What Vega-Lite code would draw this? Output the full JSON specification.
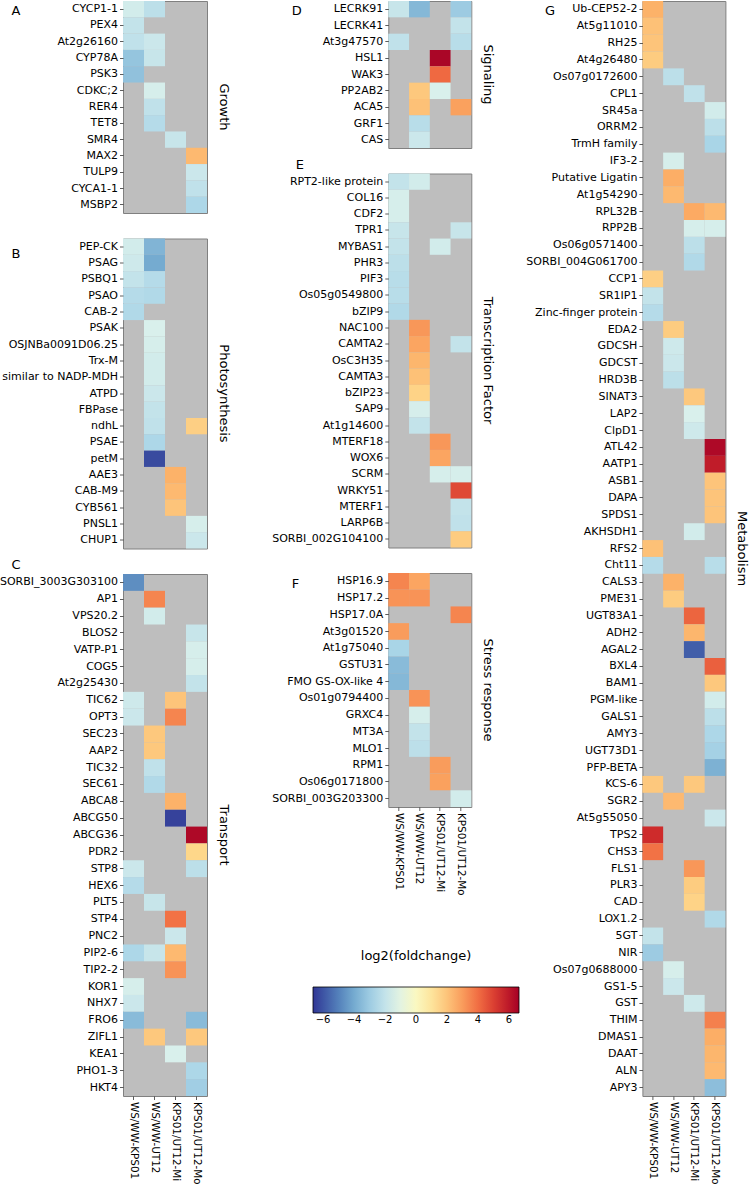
{
"$schema": "https://vega.github.io/schema/vega-lite/v6.json",
"padding": {"left": -2, "top": 0, "right": 0, "bottom": 0},
"background": "white",
"config": {
  "font": "DejaVu Sans",
  "view": {"fill": "#bebebe", "stroke": "#808080", "strokeWidth": 1},
  "axis": {"labelFont": "DejaVu Sans", "labelFontSize": 11, "labelColor": "#000", "tickColor": "#333", "tickSize": 3.5, "tickWidth": 0.8, "domain": false, "labelPadding": 2, "labelOverlap": false, "labelBound": false, "labelLimit": 300, "titleFont": "DejaVu Sans", "titleFontWeight": "normal", "titleColor": "#000", "titleFontSize": 13},
  "axisX": {"labelAngle": 90, "title": null, "labelFontSize": 10.4},
  "axisY": {"titleAngle": 0, "titleAlign": "left", "titleBaseline": "middle"},
  "title": {"font": "DejaVu Sans", "fontSize": 13, "fontWeight": "normal", "color": "#000", "orient": "right", "anchor": "middle", "offset": 10},
  "legend": {"orient": "none", "legendX": 190, "legendY": 949, "direction": "horizontal", "gradientLength": 206, "gradientThickness": 26, "gradientStrokeColor": "#000", "gradientStrokeWidth": 0.8, "titleFontSize": 13, "titleFontWeight": "normal", "titleFont": "DejaVu Sans", "titleColor": "#000", "titleAnchor": "middle", "titlePadding": 24, "labelFontSize": 10, "labelColor": "#000", "labelFont": "DejaVu Sans"}
},
"data": {"values": [
{"p":"A","g":"CYCP1-1","c":"WS/WW-KPS01","v":-1.6},
{"p":"A","g":"CYCP1-1","c":"WS/WW-UT12","v":-2.2},
{"p":"A","g":"PEX4","c":"WS/WW-KPS01","v":-2.0},
{"p":"A","g":"At2g26160","c":"WS/WW-KPS01","v":-2.1},
{"p":"A","g":"At2g26160","c":"WS/WW-UT12","v":-1.8},
{"p":"A","g":"CYP78A","c":"WS/WW-KPS01","v":-3.2},
{"p":"A","g":"CYP78A","c":"WS/WW-UT12","v":-1.9},
{"p":"A","g":"PSK3","c":"WS/WW-KPS01","v":-3.3},
{"p":"A","g":"CDKC;2","c":"WS/WW-UT12","v":-1.5},
{"p":"A","g":"RER4","c":"WS/WW-UT12","v":-2.1},
{"p":"A","g":"TET8","c":"WS/WW-UT12","v":-2.4},
{"p":"A","g":"SMR4","c":"KPS01/UT12-Mi","v":-1.9},
{"p":"A","g":"MAX2","c":"KPS01/UT12-Mo","v":2.3},
{"p":"A","g":"TULP9","c":"KPS01/UT12-Mo","v":-1.8},
{"p":"A","g":"CYCA1-1","c":"KPS01/UT12-Mo","v":-2.1},
{"p":"A","g":"MSBP2","c":"KPS01/UT12-Mo","v":-2.6},

{"p":"B","g":"PEP-CK","c":"WS/WW-KPS01","v":-1.6},
{"p":"B","g":"PEP-CK","c":"WS/WW-UT12","v":-3.7},
{"p":"B","g":"PSAG","c":"WS/WW-KPS01","v":-1.7},
{"p":"B","g":"PSAG","c":"WS/WW-UT12","v":-4.0},
{"p":"B","g":"PSBQ1","c":"WS/WW-KPS01","v":-2.0},
{"p":"B","g":"PSBQ1","c":"WS/WW-UT12","v":-2.4},
{"p":"B","g":"PSAO","c":"WS/WW-KPS01","v":-2.4},
{"p":"B","g":"PSAO","c":"WS/WW-UT12","v":-2.5},
{"p":"B","g":"CAB-2","c":"WS/WW-KPS01","v":-2.5},
{"p":"B","g":"PSAK","c":"WS/WW-UT12","v":-1.4},
{"p":"B","g":"OSJNBa0091D06.25","c":"WS/WW-UT12","v":-1.5},
{"p":"B","g":"Trx-M","c":"WS/WW-UT12","v":-1.6},
{"p":"B","g":"similar to NADP-MDH","c":"WS/WW-UT12","v":-1.6},
{"p":"B","g":"ATPD","c":"WS/WW-UT12","v":-1.8},
{"p":"B","g":"FBPase","c":"WS/WW-UT12","v":-2.0},
{"p":"B","g":"ndhL","c":"WS/WW-UT12","v":-2.1},
{"p":"B","g":"ndhL","c":"KPS01/UT12-Mo","v":1.7},
{"p":"B","g":"PSAE","c":"WS/WW-UT12","v":-2.6},
{"p":"B","g":"petM","c":"WS/WW-UT12","v":-6.2},
{"p":"B","g":"AAE3","c":"KPS01/UT12-Mi","v":2.5},
{"p":"B","g":"CAB-M9","c":"KPS01/UT12-Mi","v":2.3},
{"p":"B","g":"CYB561","c":"KPS01/UT12-Mi","v":2.0},
{"p":"B","g":"PNSL1","c":"KPS01/UT12-Mo","v":-1.5},
{"p":"B","g":"CHUP1","c":"KPS01/UT12-Mo","v":-1.8},

{"p":"C","g":"SORBI_3003G303100","c":"WS/WW-KPS01","v":-4.7},
{"p":"C","g":"AP1","c":"WS/WW-UT12","v":3.5},
{"p":"C","g":"VPS20.2","c":"WS/WW-UT12","v":-1.6},
{"p":"C","g":"BLOS2","c":"KPS01/UT12-Mo","v":-1.9},
{"p":"C","g":"VATP-P1","c":"KPS01/UT12-Mo","v":-1.5},
{"p":"C","g":"COG5","c":"KPS01/UT12-Mo","v":-1.5},
{"p":"C","g":"At2g25430","c":"KPS01/UT12-Mo","v":-2.0},
{"p":"C","g":"TIC62","c":"WS/WW-KPS01","v":-1.7},
{"p":"C","g":"TIC62","c":"KPS01/UT12-Mi","v":2.0},
{"p":"C","g":"OPT3","c":"WS/WW-KPS01","v":-1.8},
{"p":"C","g":"OPT3","c":"KPS01/UT12-Mi","v":3.5},
{"p":"C","g":"SEC23","c":"WS/WW-UT12","v":1.9},
{"p":"C","g":"AAP2","c":"WS/WW-UT12","v":1.9},
{"p":"C","g":"TIC32","c":"WS/WW-UT12","v":-2.1},
{"p":"C","g":"SEC61","c":"WS/WW-UT12","v":-2.5},
{"p":"C","g":"ABCA8","c":"KPS01/UT12-Mi","v":2.5},
{"p":"C","g":"ABCG50","c":"KPS01/UT12-Mi","v":-6.4},
{"p":"C","g":"ABCG36","c":"KPS01/UT12-Mo","v":6.4},
{"p":"C","g":"PDR2","c":"KPS01/UT12-Mo","v":1.5},
{"p":"C","g":"STP8","c":"WS/WW-KPS01","v":-1.8},
{"p":"C","g":"STP8","c":"KPS01/UT12-Mo","v":-2.2},
{"p":"C","g":"HEX6","c":"WS/WW-KPS01","v":-2.4},
{"p":"C","g":"PLT5","c":"WS/WW-UT12","v":-1.9},
{"p":"C","g":"STP4","c":"KPS01/UT12-Mi","v":3.9},
{"p":"C","g":"PNC2","c":"KPS01/UT12-Mi","v":-1.8},
{"p":"C","g":"PIP2-6","c":"WS/WW-KPS01","v":-2.6},
{"p":"C","g":"PIP2-6","c":"WS/WW-UT12","v":-1.9},
{"p":"C","g":"PIP2-6","c":"KPS01/UT12-Mi","v":2.3},
{"p":"C","g":"TIP2-2","c":"KPS01/UT12-Mi","v":3.2},
{"p":"C","g":"KOR1","c":"WS/WW-KPS01","v":-1.5},
{"p":"C","g":"NHX7","c":"WS/WW-KPS01","v":-1.8},
{"p":"C","g":"FRO6","c":"WS/WW-KPS01","v":-3.5},
{"p":"C","g":"FRO6","c":"KPS01/UT12-Mo","v":-3.5},
{"p":"C","g":"ZIFL1","c":"WS/WW-UT12","v":1.9},
{"p":"C","g":"ZIFL1","c":"KPS01/UT12-Mo","v":1.9},
{"p":"C","g":"KEA1","c":"KPS01/UT12-Mi","v":-1.4},
{"p":"C","g":"PHO1-3","c":"KPS01/UT12-Mo","v":-2.6},
{"p":"C","g":"HKT4","c":"KPS01/UT12-Mo","v":-2.9},

{"p":"D","g":"LECRK91","c":"WS/WW-KPS01","v":-1.9},
{"p":"D","g":"LECRK91","c":"WS/WW-UT12","v":-3.6},
{"p":"D","g":"LECRK91","c":"KPS01/UT12-Mo","v":-3.0},
{"p":"D","g":"LECRK41","c":"KPS01/UT12-Mo","v":-2.0},
{"p":"D","g":"At3g47570","c":"WS/WW-KPS01","v":-2.1},
{"p":"D","g":"At3g47570","c":"KPS01/UT12-Mo","v":-2.3},
{"p":"D","g":"HSL1","c":"KPS01/UT12-Mi","v":6.5},
{"p":"D","g":"WAK3","c":"KPS01/UT12-Mi","v":4.1},
{"p":"D","g":"PP2AB2","c":"WS/WW-UT12","v":1.9},
{"p":"D","g":"PP2AB2","c":"KPS01/UT12-Mi","v":-1.4},
{"p":"D","g":"ACA5","c":"WS/WW-UT12","v":2.1},
{"p":"D","g":"ACA5","c":"KPS01/UT12-Mo","v":2.9},
{"p":"D","g":"GRF1","c":"WS/WW-UT12","v":-2.3},
{"p":"D","g":"CAS","c":"WS/WW-UT12","v":-1.8},

{"p":"E","g":"RPT2-like protein","c":"WS/WW-KPS01","v":-2.0},
{"p":"E","g":"RPT2-like protein","c":"WS/WW-UT12","v":-1.6},
{"p":"E","g":"COL16","c":"WS/WW-KPS01","v":-1.5},
{"p":"E","g":"CDF2","c":"WS/WW-KPS01","v":-1.5},
{"p":"E","g":"TPR1","c":"WS/WW-KPS01","v":-1.9},
{"p":"E","g":"TPR1","c":"KPS01/UT12-Mo","v":-1.9},
{"p":"E","g":"MYBAS1","c":"WS/WW-KPS01","v":-2.0},
{"p":"E","g":"MYBAS1","c":"KPS01/UT12-Mi","v":-1.6},
{"p":"E","g":"PHR3","c":"WS/WW-KPS01","v":-2.2},
{"p":"E","g":"PIF3","c":"WS/WW-KPS01","v":-2.3},
{"p":"E","g":"Os05g0549800","c":"WS/WW-KPS01","v":-2.3},
{"p":"E","g":"bZIP9","c":"WS/WW-KPS01","v":-2.5},
{"p":"E","g":"NAC100","c":"WS/WW-UT12","v":3.1},
{"p":"E","g":"CAMTA2","c":"WS/WW-UT12","v":2.8},
{"p":"E","g":"CAMTA2","c":"KPS01/UT12-Mo","v":-2.0},
{"p":"E","g":"OsC3H35","c":"WS/WW-UT12","v":2.4},
{"p":"E","g":"CAMTA3","c":"WS/WW-UT12","v":2.1},
{"p":"E","g":"bZIP23","c":"WS/WW-UT12","v":1.6},
{"p":"E","g":"SAP9","c":"WS/WW-UT12","v":-1.5},
{"p":"E","g":"At1g14600","c":"WS/WW-UT12","v":-2.0},
{"p":"E","g":"MTERF18","c":"KPS01/UT12-Mi","v":3.1},
{"p":"E","g":"WOX6","c":"KPS01/UT12-Mi","v":2.8},
{"p":"E","g":"SCRM","c":"KPS01/UT12-Mi","v":-1.5},
{"p":"E","g":"SCRM","c":"KPS01/UT12-Mo","v":-1.5},
{"p":"E","g":"WRKY51","c":"KPS01/UT12-Mo","v":4.8},
{"p":"E","g":"MTERF1","c":"KPS01/UT12-Mo","v":-2.0},
{"p":"E","g":"LARP6B","c":"KPS01/UT12-Mo","v":-2.1},
{"p":"E","g":"SORBI_002G104100","c":"KPS01/UT12-Mo","v":1.8},

{"p":"F","g":"HSP16.9","c":"WS/WW-KPS01","v":3.5},
{"p":"F","g":"HSP16.9","c":"WS/WW-UT12","v":2.8},
{"p":"F","g":"HSP17.2","c":"WS/WW-KPS01","v":3.2},
{"p":"F","g":"HSP17.2","c":"WS/WW-UT12","v":3.2},
{"p":"F","g":"HSP17.0A","c":"KPS01/UT12-Mo","v":3.5},
{"p":"F","g":"At3g01520","c":"WS/WW-KPS01","v":3.0},
{"p":"F","g":"At1g75040","c":"WS/WW-KPS01","v":-2.7},
{"p":"F","g":"GSTU31","c":"WS/WW-KPS01","v":-3.5},
{"p":"F","g":"FMO GS-OX-like 4","c":"WS/WW-KPS01","v":-3.6},
{"p":"F","g":"Os01g0794400","c":"WS/WW-UT12","v":3.2},
{"p":"F","g":"GRXC4","c":"WS/WW-UT12","v":-1.5},
{"p":"F","g":"MT3A","c":"WS/WW-UT12","v":-2.0},
{"p":"F","g":"MLO1","c":"WS/WW-UT12","v":-2.2},
{"p":"F","g":"RPM1","c":"KPS01/UT12-Mi","v":3.0},
{"p":"F","g":"Os06g0171800","c":"KPS01/UT12-Mi","v":2.9},
{"p":"F","g":"SORBI_003G203300","c":"KPS01/UT12-Mo","v":-1.6},

{"p":"G","g":"Ub-CEP52-2","c":"WS/WW-KPS01","v":2.5},
{"p":"G","g":"At5g11010","c":"WS/WW-KPS01","v":2.1},
{"p":"G","g":"RH25","c":"WS/WW-KPS01","v":2.0},
{"p":"G","g":"At4g26480","c":"WS/WW-KPS01","v":1.8},
{"p":"G","g":"Os07g0172600","c":"WS/WW-UT12","v":-2.2},
{"p":"G","g":"CPL1","c":"KPS01/UT12-Mi","v":-2.1},
{"p":"G","g":"SR45a","c":"KPS01/UT12-Mo","v":-1.6},
{"p":"G","g":"ORRM2","c":"KPS01/UT12-Mo","v":-2.2},
{"p":"G","g":"TrmH family","c":"KPS01/UT12-Mo","v":-2.7},
{"p":"G","g":"IF3-2","c":"WS/WW-UT12","v":-1.5},
{"p":"G","g":"Putative Ligatin","c":"WS/WW-UT12","v":2.6},
{"p":"G","g":"At1g54290","c":"WS/WW-UT12","v":2.3},
{"p":"G","g":"RPL32B","c":"KPS01/UT12-Mi","v":2.7},
{"p":"G","g":"RPL32B","c":"KPS01/UT12-Mo","v":2.3},
{"p":"G","g":"RPP2B","c":"KPS01/UT12-Mi","v":-1.5},
{"p":"G","g":"RPP2B","c":"KPS01/UT12-Mo","v":-1.5},
{"p":"G","g":"Os06g0571400","c":"KPS01/UT12-Mi","v":-2.2},
{"p":"G","g":"SORBI_004G061700","c":"KPS01/UT12-Mi","v":-2.5},
{"p":"G","g":"CCP1","c":"WS/WW-KPS01","v":1.7},
{"p":"G","g":"SR1IP1","c":"WS/WW-KPS01","v":-2.0},
{"p":"G","g":"Zinc-finger protein","c":"WS/WW-KPS01","v":-2.4},
{"p":"G","g":"EDA2","c":"WS/WW-UT12","v":1.8},
{"p":"G","g":"GDCSH","c":"WS/WW-UT12","v":-1.7},
{"p":"G","g":"GDCST","c":"WS/WW-UT12","v":-1.8},
{"p":"G","g":"HRD3B","c":"WS/WW-UT12","v":-2.2},
{"p":"G","g":"SINAT3","c":"KPS01/UT12-Mi","v":1.9},
{"p":"G","g":"LAP2","c":"KPS01/UT12-Mi","v":-1.4},
{"p":"G","g":"ClpD1","c":"KPS01/UT12-Mi","v":-1.7},
{"p":"G","g":"ATL42","c":"KPS01/UT12-Mo","v":6.4},
{"p":"G","g":"AATP1","c":"KPS01/UT12-Mo","v":5.9},
{"p":"G","g":"ASB1","c":"KPS01/UT12-Mo","v":2.0},
{"p":"G","g":"DAPA","c":"KPS01/UT12-Mo","v":2.0},
{"p":"G","g":"SPDS1","c":"KPS01/UT12-Mo","v":2.0},
{"p":"G","g":"AKHSDH1","c":"KPS01/UT12-Mi","v":-1.6},
{"p":"G","g":"RFS2","c":"WS/WW-KPS01","v":2.1},
{"p":"G","g":"Cht11","c":"WS/WW-KPS01","v":-2.4},
{"p":"G","g":"Cht11","c":"KPS01/UT12-Mo","v":-2.3},
{"p":"G","g":"CALS3","c":"WS/WW-UT12","v":2.5},
{"p":"G","g":"PME31","c":"WS/WW-UT12","v":1.8},
{"p":"G","g":"UGT83A1","c":"KPS01/UT12-Mi","v":4.2},
{"p":"G","g":"ADH2","c":"KPS01/UT12-Mi","v":2.4},
{"p":"G","g":"AGAL2","c":"KPS01/UT12-Mi","v":-5.8},
{"p":"G","g":"BXL4","c":"KPS01/UT12-Mo","v":4.3},
{"p":"G","g":"BAM1","c":"KPS01/UT12-Mo","v":1.9},
{"p":"G","g":"PGM-like","c":"KPS01/UT12-Mo","v":-1.6},
{"p":"G","g":"GALS1","c":"KPS01/UT12-Mo","v":-2.2},
{"p":"G","g":"AMY3","c":"KPS01/UT12-Mo","v":-2.6},
{"p":"G","g":"UGT73D1","c":"KPS01/UT12-Mo","v":-2.8},
{"p":"G","g":"PFP-BETA","c":"KPS01/UT12-Mo","v":-3.8},
{"p":"G","g":"KCS-6","c":"WS/WW-KPS01","v":1.9},
{"p":"G","g":"KCS-6","c":"KPS01/UT12-Mi","v":1.9},
{"p":"G","g":"SGR2","c":"WS/WW-UT12","v":2.3},
{"p":"G","g":"At5g55050","c":"KPS01/UT12-Mo","v":-1.8},
{"p":"G","g":"TPS2","c":"WS/WW-KPS01","v":5.5},
{"p":"G","g":"CHS3","c":"WS/WW-KPS01","v":3.9},
{"p":"G","g":"FLS1","c":"KPS01/UT12-Mi","v":3.1},
{"p":"G","g":"PLR3","c":"KPS01/UT12-Mi","v":1.8},
{"p":"G","g":"CAD","c":"KPS01/UT12-Mi","v":1.6},
{"p":"G","g":"LOX1.2","c":"KPS01/UT12-Mo","v":-2.5},
{"p":"G","g":"5GT","c":"WS/WW-KPS01","v":-2.0},
{"p":"G","g":"NIR","c":"WS/WW-KPS01","v":-3.0},
{"p":"G","g":"Os07g0688000","c":"WS/WW-UT12","v":-1.5},
{"p":"G","g":"GS1-5","c":"WS/WW-UT12","v":-1.8},
{"p":"G","g":"GST","c":"KPS01/UT12-Mi","v":-1.7},
{"p":"G","g":"THIM","c":"KPS01/UT12-Mo","v":3.6},
{"p":"G","g":"DMAS1","c":"KPS01/UT12-Mo","v":2.6},
{"p":"G","g":"DAAT","c":"KPS01/UT12-Mo","v":2.4},
{"p":"G","g":"ALN","c":"KPS01/UT12-Mo","v":2.3},
{"p":"G","g":"APY3","c":"KPS01/UT12-Mo","v":-3.4}
]},
"spacing": 265.3,
"bounds": "flush",
"hconcat": [
 {"spacing": 25.5, "bounds": "flush", "vconcat": [
  {"width": 84, "height": 212, "transform": [{"filter": "datum.p == 'A'"}], "title": {"text": "Growth"}, "mark": "rect",
   "encoding": {"x": {"field": "c", "type": "nominal", "scale": {"domain": ["WS/WW-KPS01","WS/WW-UT12","KPS01/UT12-Mi","KPS01/UT12-Mo"]}, "axis": null},
    "y": {"field": "g", "type": "nominal", "sort": null, "axis": {"title": "A", "titleX": -112, "titleY": 9}},
    "color": {"field": "v", "type": "quantitative", "scale": {"domain": [-6.65, 6.65], "scheme": "redyellowblue", "reverse": true}, "legend": {"title": "log2(foldchange)", "values": [-6,-4,-2,0,2,4,6]}}}},
  {"width": 84, "height": 310, "transform": [{"filter": "datum.p == 'B'"}], "title": {"text": "Photosynthesis"}, "mark": "rect",
   "encoding": {"x": {"field": "c", "type": "nominal", "scale": {"domain": ["WS/WW-KPS01","WS/WW-UT12","KPS01/UT12-Mi","KPS01/UT12-Mo"]}, "axis": null},
    "y": {"field": "g", "type": "nominal", "sort": null, "axis": {"title": "B", "titleX": -112, "titleY": 15}},
    "color": {"field": "v", "type": "quantitative", "scale": {"domain": [-6.65, 6.65], "scheme": "redyellowblue", "reverse": true}, "legend": {"title": "log2(foldchange)", "values": [-6,-4,-2,0,2,4,6]}}}},
  {"width": 84, "height": 522, "transform": [{"filter": "datum.p == 'C'"}], "title": {"text": "Transport"}, "mark": "rect",
   "encoding": {"x": {"field": "c", "type": "nominal", "scale": {"domain": ["WS/WW-KPS01","WS/WW-UT12","KPS01/UT12-Mi","KPS01/UT12-Mo"]}, "axis": {}},
    "y": {"field": "g", "type": "nominal", "sort": null, "axis": {"title": "C", "titleX": -112, "titleY": -10}},
    "color": {"field": "v", "type": "quantitative", "scale": {"domain": [-6.65, 6.65], "scheme": "redyellowblue", "reverse": true}, "legend": {"title": "log2(foldchange)", "values": [-6,-4,-2,0,2,4,6]}}}}
 ]},
 {"spacing": 254.1, "bounds": "flush", "hconcat": [
  {"spacing": 25.5, "bounds": "flush", "vconcat": [
   {"width": 83, "height": 147, "transform": [{"filter": "datum.p == 'D'"}], "title": {"text": "Signaling"}, "mark": "rect",
    "encoding": {"x": {"field": "c", "type": "nominal", "scale": {"domain": ["WS/WW-KPS01","WS/WW-UT12","KPS01/UT12-Mi","KPS01/UT12-Mo"]}, "axis": null},
     "y": {"field": "g", "type": "nominal", "sort": null, "axis": {"title": "D", "titleX": -97, "titleY": 9}},
     "color": {"field": "v", "type": "quantitative", "scale": {"domain": [-6.65, 6.65], "scheme": "redyellowblue", "reverse": true}, "legend": {"title": "log2(foldchange)", "values": [-6,-4,-2,0,2,4,6]}}}},
   {"width": 83, "height": 374, "transform": [{"filter": "datum.p == 'E'"}], "title": {"text": "Transcription Factor"}, "mark": "rect",
    "encoding": {"x": {"field": "c", "type": "nominal", "scale": {"domain": ["WS/WW-KPS01","WS/WW-UT12","KPS01/UT12-Mi","KPS01/UT12-Mo"]}, "axis": null},
     "y": {"field": "g", "type": "nominal", "sort": null, "axis": {"title": "E", "titleX": -93, "titleY": -9}},
     "color": {"field": "v", "type": "quantitative", "scale": {"domain": [-6.65, 6.65], "scheme": "redyellowblue", "reverse": true}, "legend": {"title": "log2(foldchange)", "values": [-6,-4,-2,0,2,4,6]}}}},
   {"width": 83, "height": 234, "transform": [{"filter": "datum.p == 'F'"}], "title": {"text": "Stress response"}, "mark": "rect",
    "encoding": {"x": {"field": "c", "type": "nominal", "scale": {"domain": ["WS/WW-KPS01","WS/WW-UT12","KPS01/UT12-Mi","KPS01/UT12-Mo"]}, "axis": {}},
     "y": {"field": "g", "type": "nominal", "sort": null, "axis": {"title": "F", "titleX": -97, "titleY": 10}},
     "color": {"field": "v", "type": "quantitative", "scale": {"domain": [-6.65, 6.65], "scheme": "redyellowblue", "reverse": true}, "legend": {"title": "log2(foldchange)", "values": [-6,-4,-2,0,2,4,6]}}}}
  ]},
  {"width": 83, "height": 1095, "transform": [{"filter": "datum.p == 'G'"}], "title": {"text": "Metabolism"}, "mark": "rect",
   "encoding": {"x": {"field": "c", "type": "nominal", "scale": {"domain": ["WS/WW-KPS01","WS/WW-UT12","KPS01/UT12-Mi","KPS01/UT12-Mo"]}, "axis": {}},
    "y": {"field": "g", "type": "nominal", "sort": null, "axis": {"title": "G", "titleX": -98, "titleY": 9}},
    "color": {"field": "v", "type": "quantitative", "scale": {"domain": [-6.65, 6.65], "scheme": "redyellowblue", "reverse": true}, "legend": {"title": "log2(foldchange)", "values": [-6,-4,-2,0,2,4,6]}}}}
 ]}
]
}
